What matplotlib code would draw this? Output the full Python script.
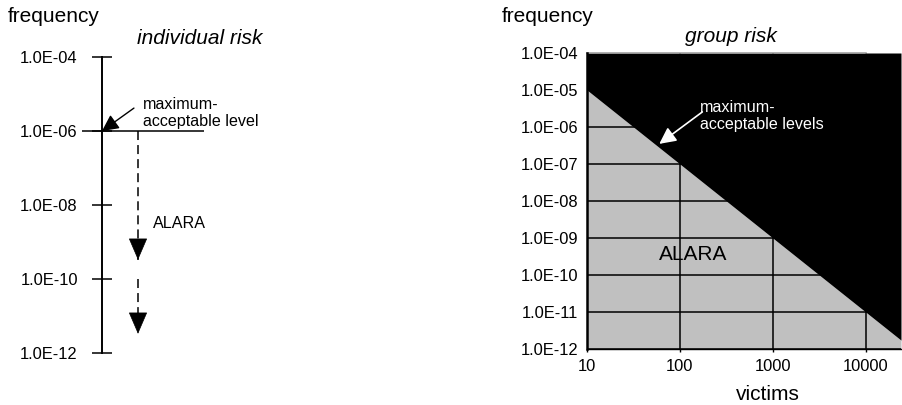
import numpy as np
import matplotlib
matplotlib.use("Agg")
import matplotlib.pyplot as plt
from matplotlib.ticker import NullLocator

plt.rcParams["font.family"] = ["Liberation Sans", "DejaVu Sans"]

W, H, DPI = 902, 405, 100

# individual risk panel
ind_ticks = [1e-12, 1e-10, 1e-8, 1e-6, 1e-4]
ind_labels = ["1.0E-12", "1.0E-10", "1.0E-08", "1.0E-06", "1.0E-04"]
individual_limit = 1e-6
alara_starts = [1e-6, 1e-10]
alara_ends = [3.3e-10, 3.3e-12]

# group risk panel
freq_ticks = [1e-12, 1e-11, 1e-10, 1e-9, 1e-8, 1e-7, 1e-6, 1e-5, 1e-4]
freq_labels = ["1.0E-12", "1.0E-11", "1.0E-10", "1.0E-09", "1.0E-08",
               "1.0E-07", "1.0E-06", "1.0E-05", "1.0E-04"]
victim_ticks = [10, 100, 1000, 10000]
victim_labels = ["10", "100", "1000", "10000"]
victims_range = [10, 24000]
group_limit_coef = 1e-3      # F = C / N^2
group_limit_exp = 2
group_arrow_tip = (60, 3.5e-7)


def px_box(x0, x1, ytop, ybot):
    return [x0 / W, (H - ybot) / H, (x1 - x0) / W, (ybot - ytop) / H]


def fig_text(x, y, s, **kw):
    fig.text(x / W, 1 - y / H, s, **kw)


fig = plt.figure(figsize=(W / DPI, H / DPI), dpi=DPI)

TICK_FS = 11.9
BIG_FS = 15
NOTE_FS = 11.6

# ---------------- individual risk ----------------
ax1 = fig.add_axes(px_box(0, 300, 57, 353))
ax1.patch.set_visible(False)
ax1.set_xlim(0, 300)
ax1.set_yscale("log")
ax1.set_ylim(1e-12, 1e-4)
for side in ("top", "right", "bottom"):
    ax1.spines[side].set_visible(False)
ax1.spines["left"].set_position(("data", 102))
ax1.spines["left"].set_linewidth(1.4)
ax1.set_xticks([])
ax1.set_yticks(ind_ticks, ind_labels)
ax1.yaxis.set_minor_locator(NullLocator())
ax1.tick_params(axis="y", direction="inout", length=13.7, width=1.1,
                pad=10.6, labelsize=TICK_FS)

ax1.plot([82, 204], [individual_limit] * 2, color="black", lw=1.1,
         solid_capstyle="butt")

for y0, y1 in zip(alara_starts, alara_ends):
    ax1.plot([138, 138], [y0, y1], color="black", lw=1.1,
             dashes=(5.9, 3.3))
    ax1.annotate("", xy=(138, y1), xytext=(0, 15), textcoords="offset points",
                 arrowprops=dict(arrowstyle="-|>,head_length=14.4,head_width=6.2",
                                 mutation_scale=1, lw=0.5, color="black",
                                 shrinkA=0, shrinkB=0))

ax1.annotate("", xy=(102, individual_limit), xytext=(23, 16.5),
             textcoords="offset points",
             arrowprops=dict(arrowstyle="-|>,head_length=10,head_width=5",
                             mutation_scale=1, lw=1.0, color="black",
                             shrinkA=0, shrinkB=0))

fig_text(8, 17, "frequency", fontsize=BIG_FS, ha="left", va="center")
fig_text(200, 38, "individual risk", fontsize=BIG_FS, style="italic",
         ha="center", va="center")
fig_text(143, 113, "maximum-\nacceptable level", fontsize=NOTE_FS,
         ha="left", va="center", linespacing=1.1)
fig_text(153, 223, "ALARA", fontsize=NOTE_FS, ha="left", va="center")

# ---------------- group risk ----------------
ax2 = fig.add_axes(px_box(587, 901, 53, 349))
ax2.set_xscale("log")
ax2.set_yscale("log")
ax2.set_xlim(*victims_range)
ax2.set_ylim(freq_ticks[0], freq_ticks[-1])

n = np.geomspace(victims_range[0], victims_range[1], 300)
limit = group_limit_coef / n ** group_limit_exp
ax2.fill_between(n, freq_ticks[0], limit, color="#c0c0c0", lw=0, zorder=1)
for f in freq_ticks[:-1]:
    ax2.axhline(f, color="black", lw=1.1, zorder=2)
for v in victim_ticks[1:]:
    ax2.axvline(v, color="black", lw=1.1, zorder=2)
ax2.fill_between(n, limit, freq_ticks[-1], color="black", lw=0, zorder=3)
ax2.plot([victim_ticks[0], victim_ticks[-1]], [freq_ticks[-1]] * 2,
         color="#9a9a9a", lw=1.1, zorder=4, clip_on=False)

for side in ("top", "right"):
    ax2.spines[side].set_visible(False)
ax2.spines["left"].set_linewidth(1.8)
ax2.spines["bottom"].set_linewidth(1.0)
ax2.spines["left"].set_zorder(5)
ax2.set_yticks(freq_ticks, freq_labels)
ax2.set_xticks(victim_ticks, victim_labels)
ax2.xaxis.set_minor_locator(NullLocator())
ax2.yaxis.set_minor_locator(NullLocator())
ax2.tick_params(axis="y", length=0, pad=6.3, labelsize=TICK_FS)
ax2.tick_params(axis="x", length=2.5, width=1.0, pad=4.5, labelsize=TICK_FS)

ax2.annotate("", xy=group_arrow_tip, xytext=(31, 23),
             textcoords="offset points",
             arrowprops=dict(arrowstyle="-|>,head_length=10,head_width=5",
                             mutation_scale=1, lw=1.2, color="white",
                             shrinkA=0, shrinkB=0), zorder=6)

fig_text(502, 17, "frequency", fontsize=BIG_FS, ha="left", va="center")
fig_text(731, 36, "group risk", fontsize=BIG_FS, style="italic",
         ha="center", va="center")
fig_text(700, 116, "maximum-\nacceptable levels", fontsize=NOTE_FS,
         ha="left", va="center", color="white", linespacing=1.1)
fig_text(693, 255, "ALARA", fontsize=BIG_FS, ha="center", va="center")
fig_text(768, 394, "victims", fontsize=BIG_FS, ha="center", va="center")

fig.savefig("out.png", dpi=DPI)
